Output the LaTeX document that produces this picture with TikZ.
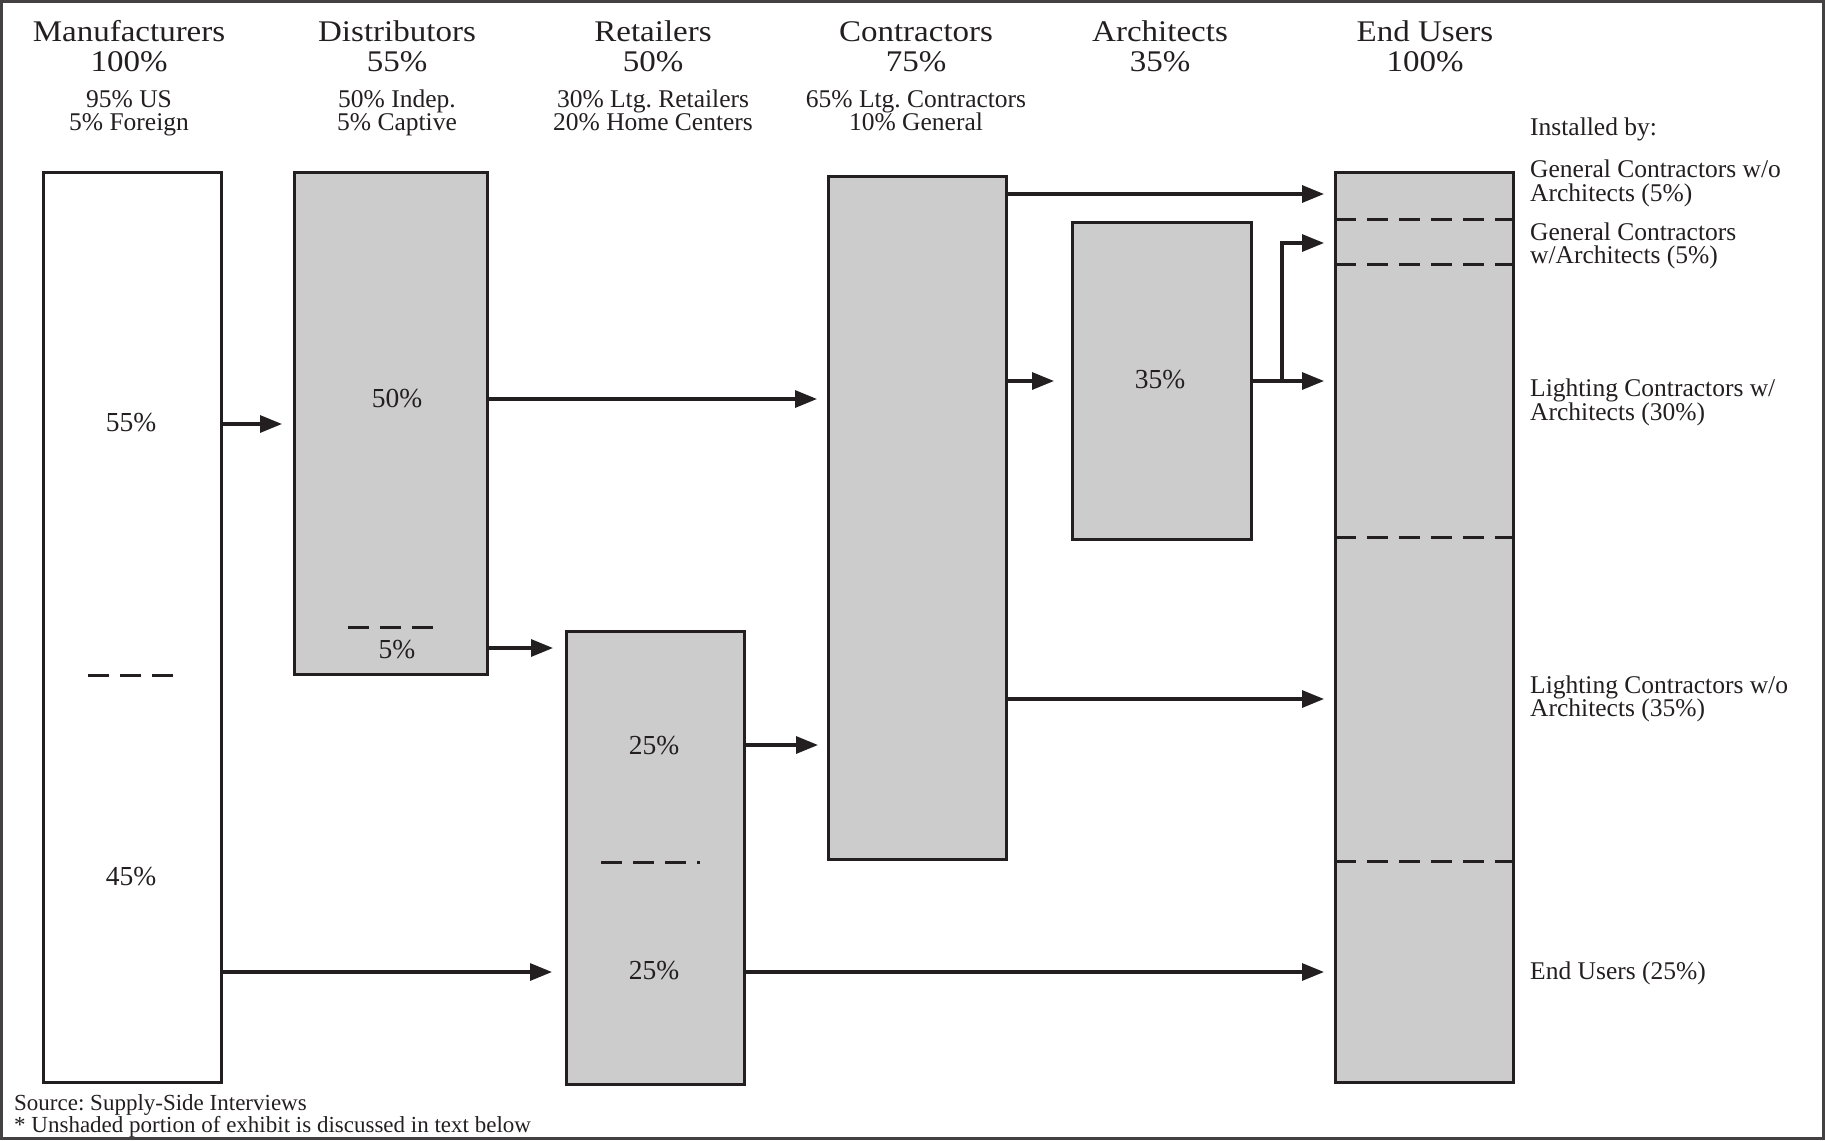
\documentclass[tikz,border=0pt]{standalone}
\usepackage{fontspec}
\setmainfont{Liberation Serif}
\newfontfamily\headfont[FakeStretch=1.1]{Liberation Serif}
\usetikzlibrary{arrows.meta}
\definecolor{ink}{HTML}{231F20}
\definecolor{shade}{HTML}{CCCCCC}
\frenchspacing
\begin{document}
\begin{tikzpicture}[x=1pt,y=-1pt,
  box/.style={draw=ink, line width=3pt, fill=shade, inner sep=0pt, outer sep=0pt, anchor=north west},
  flow/.style={draw=ink, line width=3.2pt, -{Triangle[length=22pt,width=17pt]}, shorten >=11pt},
  sep/.style={draw=ink, line width=3pt, dash pattern=on 21pt off 11pt},
  head/.style={font=\headfont\fontsize{30}{30}\selectfont, text=ink, anchor=base, inner sep=0pt},
  sub/.style={font=\fontsize{25.5}{23}\selectfont, text=ink, anchor=base, inner sep=0pt},
  pct/.style={font=\fontsize{27.5}{27.5}\selectfont, text=ink, anchor=base, inner sep=0pt},
  lab/.style={font=\fontsize{25.5}{24}\selectfont, text=ink, anchor=base west, inner sep=0pt},
  note/.style={font=\fontsize{23}{22}\selectfont, text=ink, anchor=base west, inner sep=0pt}
]
\useasboundingbox (0,0) rectangle (1825,1140);
\draw[ink!85, line width=2.5pt] (1.5,1.5) rectangle (1823.5,1138.5);

% boxes
\node[box, fill=white, minimum width=178pt, minimum height=910pt] (man) at (43,172) {};
\node[box, minimum width=193pt, minimum height=502pt] (dis) at (294,172) {};
\node[box, minimum width=178pt, minimum height=453pt] (ret) at (566,631) {};
\node[box, minimum width=178pt, minimum height=683pt] (con) at (828,176) {};
\node[box, minimum width=179pt, minimum height=317pt] (arch) at (1072,222) {};
\node[box, minimum width=178pt, minimum height=910pt] (endu) at (1335,172) {};

% headings
\node[head] (h1) at (129,42) {Manufacturers};
\node[head] (h1b) at (129,71) {100\%};
\node[sub] (s1) at (129,107) {95\% US};
\node[sub] (s1b) at (129,130) {5\% Foreign};
\node[head] (h2) at (397,42) {Distributors};
\node[head] (h2b) at (397,71) {55\%};
\node[sub] (s2) at (397,107) {50\% Indep.};
\node[sub] (s2b) at (397,130) {5\% Captive};
\node[head] (h3) at (653,42) {Retailers};
\node[head] (h3b) at (653,71) {50\%};
\node[sub] (s3) at (653,107) {30\% Ltg. Retailers};
\node[sub] (s3b) at (653,130) {20\% Home Centers};
\node[head] (h4) at (916,42) {Contractors};
\node[head] (h4b) at (916,71) {75\%};
\node[sub] (s4) at (916,107) {65\% Ltg. Contractors};
\node[sub] (s4b) at (916,130) {10\% General};
\node[head] (h5) at (1160,42) {Architects};
\node[head] (h5b) at (1160,71) {35\%};
\node[head] (h6) at (1425,42) {End Users};
\node[head] (h6b) at (1425,71) {100\%};

% box texts
\node[pct] (p55) at (131,431) {55\%};
\node[pct] (p45) at (131,885) {45\%};
\node[pct] (p50) at (397,407) {50\%};
\node[pct] (p5) at (397,658) {5\%};
\node[pct] (p25a) at (654,754) {25\%};
\node[pct] (p25b) at (654,979) {25\%};
\node[pct] (p35) at (1160,388) {35\%};

% dashed separators
\draw[sep] (88,675) -- (173,675);
\draw[sep] (348,627) -- (434,627);
\draw[sep] (601,862) -- (700,862);
\draw[sep] (endu.west |- 0,219) -- (endu.east |- 0,219);
\draw[sep] (endu.west |- 0,264) -- (endu.east |- 0,264);
\draw[sep] (endu.west |- 0,537) -- (endu.east |- 0,537);
\draw[sep] (endu.west |- 0,861) -- (endu.east |- 0,861);

% connectors
\draw[flow, shorten >=12pt] (man.east |- 0,424) -- (dis.west |- 0,424);
\draw[flow, shorten >=14pt] (man.east |- 0,972) -- (ret.west |- 0,972);
\draw[flow] (dis.east |- 0,399) -- (con.west |- 0,399);
\draw[flow, shorten >=13pt] (dis.east |- 0,648) -- (ret.west |- 0,648);
\draw[flow, shorten >=10pt] (ret.east |- 0,745) -- (con.west |- 0,745);
\draw[flow] (ret.east |- 0,972) -- (endu.west |- 0,972);
\draw[flow] (con.east |- 0,194) -- (endu.west |- 0,194);
\draw[flow, shorten >=18pt] (con.east |- 0,381) -- (arch.west |- 0,381);
\draw[flow] (con.east |- 0,699) -- (endu.west |- 0,699);
\draw[flow] (arch.east |- 0,381) -- (endu.west |- 0,381);
\coordinate (br) at (1282,381);
\draw[flow, line join=miter] (br) -- (br |- 0,243) -- (endu.west |- 0,243);

% right labels
\node[lab] (l0) at (1530,135) {Installed by:};
\node[lab] (l1) at (1530,177) {General Contractors w/o};
\node[lab] (l1b) at (1530,201) {Architects (5\%)};
\node[lab] (l2) at (1530,240) {General Contractors};
\node[lab] (l2b) at (1530,263) {w/Architects (5\%)};
\node[lab] (l3) at (1530,396) {Lighting Contractors w/};
\node[lab] (l3b) at (1530,420) {Architects (30\%)};
\node[lab] (l4) at (1530,693) {Lighting Contractors w/o};
\node[lab] (l4b) at (1530,716) {Architects (35\%)};
\node[lab] (l5) at (1530,979) {End Users (25\%)};

% footer
\node[note] (n1) at (14,1110) {Source: Supply-Side Interviews};
\node[note] (n2) at (14,1132) {* Unshaded portion of exhibit is discussed in text below};
\end{tikzpicture}
\end{document}
